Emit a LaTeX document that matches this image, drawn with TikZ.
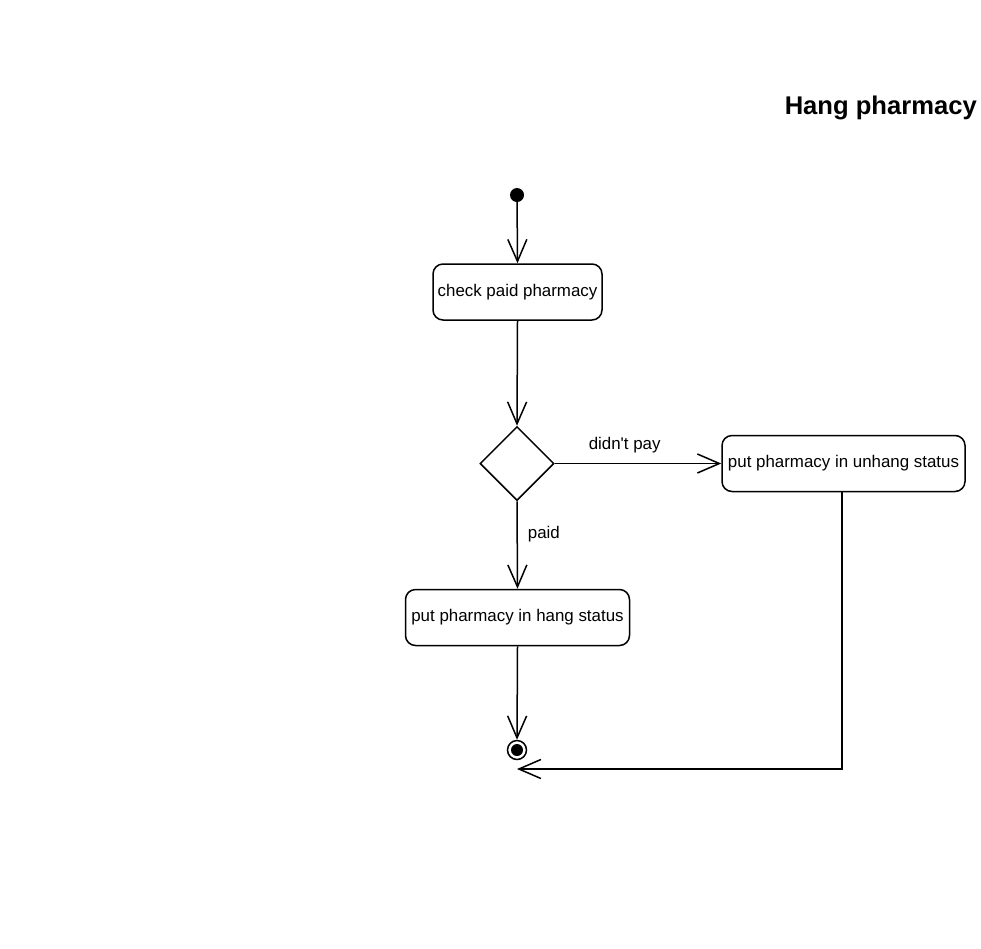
\documentclass[tikz,border=0pt]{standalone}
\usepackage{fontspec}
\newfontfamily\libsans{Liberation Sans}
\usetikzlibrary{shapes.geometric,arrows.meta}
\begin{document}
\begin{tikzpicture}[x=1pt,y=-1pt,
  actbox/.style={draw,line width=1.5pt,rounded corners=10pt,inner sep=0pt,font=\libsans\fontsize{16.9}{20}\selectfont},
  flow/.style={draw,line width=1.5pt,-{Straight Barb[length=22pt,width=19pt]}},
  lbl/.style={font=\libsans\fontsize{16.9}{20}\selectfont,inner sep=0pt}]
\useasboundingbox (0,0) rectangle (981,948);
\node[font=\libsans\fontsize{25.6}{30}\selectfont\bfseries,anchor=east,inner sep=0pt] (title) at (977,108) {Hang pharmacy};
\node[circle,fill=black,minimum size=14pt,inner sep=0pt] (start) at (517,195) {};
\node[actbox,minimum width=169pt,minimum height=56pt] (check) at (517.5,292) {check paid pharmacy};
\node[diamond,draw,line width=1.5pt,minimum width=74pt,minimum height=74pt,inner sep=0pt] (dec) at (517,463.5) {};
\node[actbox,minimum width=243pt,minimum height=56pt] (unhang) at (843.5,463.5) {put pharmacy in unhang status};
\node[actbox,minimum width=224pt,minimum height=56pt] (hang) at (517.5,617.5) {put pharmacy in hang status};
\node[circle,draw,line width=1.5pt,minimum size=19pt,inner sep=0pt] (final) at (517,750) {};
\fill (final.center) circle (6pt);
\coordinate (endpt) at (517,769);
\draw[flow] (start) -- (check.north);
\draw[flow] (check.south) -- (dec.north);
\draw[flow] (dec.east) -- node[lbl,above=10pt,pos=0.42] {didn't pay} (unhang.west);
\draw[flow] (dec.south) -- node[lbl,right=10pt,pos=0.37] {paid} (hang.north);
\draw[flow] (hang.south) -- (final.north);
\draw[flow] (unhang.south -| 842,0) |- (endpt);
\end{tikzpicture}
\end{document}
